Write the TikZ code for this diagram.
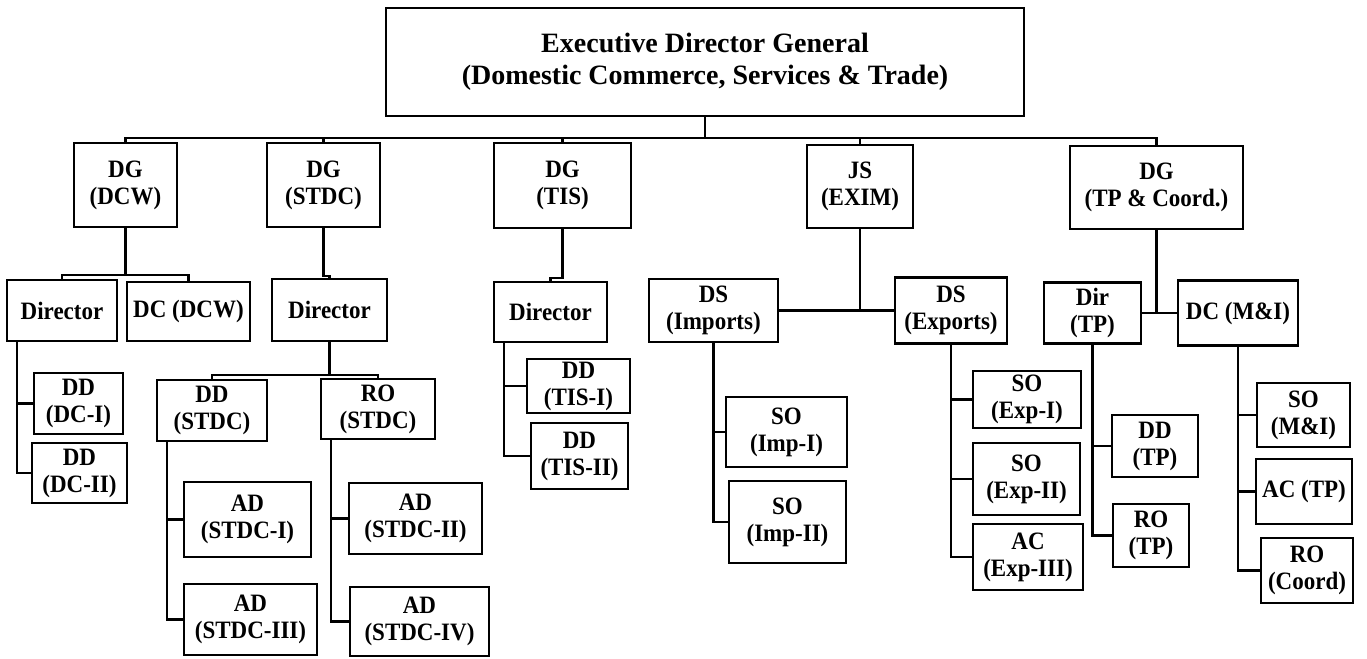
\documentclass[tikz,border=0pt]{standalone}
\usepackage{fontspec}
\setmainfont{Liberation Serif}
\newfontfamily\narrowserif{Liberation Serif}[FakeStretch=0.92]
\usetikzlibrary{positioning}

\tikzset{
  box/.style={draw, line width=1.2pt, inner sep=1pt, align=center,
    font=\narrowserif\bfseries\fontsize{12.5}{13.5}\selectfont},
  topbox/.style={box, font=\bfseries\fontsize{14}{16}\selectfont},
  link/.style={line width=1.2pt}
}

\begin{document}
\begin{tikzpicture}[x=0.5pt, y=-0.5pt]
\useasboundingbox (0,0) rectangle (1367,659);

%head
	\node[topbox, minimum width=319pt, minimum height=54pt] (edg) at (705,62) {Executive Director General\\(Domestic Commerce, Services \& Trade)};
	\coordinate (bus) at (0,138);

	%first level
	\node[box, minimum width=51.5pt, minimum height=42pt] (dgdcw) at (125.5,185) {DG\\(DCW)};
	\node[box, minimum width=56.5pt, minimum height=42pt] (dgstdc) at (323.5,185) {DG\\(STDC)};
	\node[box, minimum width=68.5pt, minimum height=42.5pt] (dgtis) at (562.5,185.5) {DG\\(TIS)};
	\node[box, minimum width=53pt, minimum height=41.5pt] (jsexim) at (860,186.5) {JS\\(EXIM)};
	\node[box, minimum width=86.5pt, minimum height=41.5pt] (dgtp) at (1156.5,187.5) {DG\\(TP \& Coord.)};

	\draw[link] (edg.south) -- (edg.south |- bus);
	\draw[link] (dgdcw.north) -- (dgdcw.north |- bus) -- (dgtp.north |- bus) -- (dgtp.north);
	\draw[link] (dgstdc.north) -- (dgstdc.north |- bus);
	\draw[link] (dgtis.north) -- (dgtis.north |- bus);
	\draw[link] (jsexim.north) -- (jsexim.north |- bus);

	%second level
	\node[box, minimum width=55pt, minimum height=30.5pt] (dirdcw) at (62,310.5) {Director};
	\node[box, minimum width=61.5pt, minimum height=29.5pt] (dcdcw) at (188.5,311.5) {DC (DCW)};
	\node[box, minimum width=57.5pt, minimum height=31pt] (dirstdc) at (329.5,310) {Director};
	\node[box, minimum width=56.5pt, minimum height=30pt] (dirtis) at (550.5,312) {Director};
	\node[box, minimum width=64.5pt, minimum height=31.5pt] (dsimp) at (713.5,310.5) {DS\\(Imports)};
	\node[box, minimum width=56pt, minimum height=33pt] (dsexp) at (951,310.5) {DS\\(Exports)};
	\node[box, minimum width=48.5pt, minimum height=30.5pt] (dirtp) at (1092.5,313) {Dir\\(TP)};
	\node[box, minimum width=60pt, minimum height=32.5pt] (dcmi) at (1238,313) {DC (M\&I)};

	\draw[link] (dgdcw.south) -- ++(0,47) coordinate (jdcw);
	\draw[link] (dirdcw.north) |- (jdcw) -| (dcdcw.north);
	\draw[link] (dgstdc.south) -- ++(0,48) -| (dirstdc.north);
	\draw[link] (dgtis.south) -- ++(0,49) -| (dirtis.north);
	\draw[link] (dsimp.east) -- (dsexp.west);
	\draw[link] (jsexim.south) -- (jsexim.south |- dsimp.east);
	\draw[link] (dirtp.east) -- (dcmi.west);
	\draw[link] (dgtp.south) -- (dgtp.south |- dirtp.east);

	%third level
	\node[box, minimum width=44.5pt, minimum height=30.5pt] (dddc1) at (78.5,403.5) {DD\\(DC-I)};
	\node[box, minimum width=47.5pt, minimum height=30pt] (dddc2) at (79.5,473) {DD\\(DC-II)};
	\node[box, minimum width=55pt, minimum height=30.5pt] (ddstdc) at (212,410.5) {DD\\(STDC)};
	\node[box, minimum width=57pt, minimum height=30pt] (rostdc) at (378,409) {RO\\(STDC)};
	\node[box, minimum width=51.5pt, minimum height=27pt] (ddtis1) at (578.5,386) {DD\\(TIS-I)};
	\node[box, minimum width=48.5pt, minimum height=33pt] (ddtis2) at (579.5,456) {DD\\(TIS-II)};
	\node[box, minimum width=60.5pt, minimum height=35pt] (soimp1) at (786.5,432) {SO\\(Imp-I)};
	\node[box, minimum width=58.5pt, minimum height=41pt] (soimp2) at (787.5,522) {SO\\(Imp-II)};
	\node[box, minimum width=54pt, minimum height=28.5pt] (soexp1) at (1027,399.5) {SO\\(Exp-I)};
	\node[box, minimum width=53.5pt, minimum height=36pt] (soexp2) at (1026.5,479) {SO\\(Exp-II)};
	\node[box, minimum width=55pt, minimum height=33pt] (acexp3) at (1028,557) {AC\\(Exp-III)};
	\node[box, minimum width=43pt, minimum height=31pt] (ddtp) at (1155,446) {DD\\(TP)};
	\node[box, minimum width=38pt, minimum height=31.5pt] (rotp) at (1151,535.5) {RO\\(TP)};
	\node[box, minimum width=46.5pt, minimum height=32pt] (somi) at (1303.5,415) {SO\\(M\&I)};
	\node[box, minimum width=48pt, minimum height=32.5pt] (actp) at (1304,491.5) {AC (TP)};
	\node[box, minimum width=46pt, minimum height=32.5pt] (rocoord) at (1307,570.5) {RO\\(Coord)};

	\draw[link] ([xshift=5.5pt]dirdcw.south west) |- (dddc1.west);
	\draw[link] ([xshift=5.5pt]dirdcw.south west) |- (dddc2.west);
	\draw[link] (dirstdc.south) -- ++(0,33) coordinate (jstdc);
	\draw[link] (ddstdc.north) |- (jstdc) -| (rostdc.north);
	\draw[link] ([xshift=5.5pt]dirtis.south west) |- (ddtis1.west);
	\draw[link] ([xshift=5.5pt]dirtis.south west) |- (ddtis2.west);
	\draw[link] (dsimp.south) |- (soimp1.west);
	\draw[link] (dsimp.south) |- (soimp2.west);
	\draw[link] (dsexp.south) |- (soexp1.west);
	\draw[link] (dsexp.south) |- (soexp2.west);
	\draw[link] (dsexp.south) |- (acexp3.west);
	\draw[link] (dirtp.south) |- (ddtp.west);
	\draw[link] (dirtp.south) |- (rotp.west);
	\draw[link] (dcmi.south) |- (somi.west);
	\draw[link] (dcmi.south) |- (actp.west);
	\draw[link] (dcmi.south) |- (rocoord.west);

	%fourth level
	\node[box, minimum width=63.5pt, minimum height=37.5pt] (adstdc1) at (247.5,519.5) {AD\\(STDC-I)};
	\node[box, minimum width=66.5pt, minimum height=35.5pt] (adstdc3) at (250.5,619.5) {AD\\(STDC-III)};
	\node[box, minimum width=66.5pt, minimum height=35.5pt] (adstdc2) at (415.5,518.5) {AD\\(STDC-II)};
	\node[box, minimum width=69.5pt, minimum height=34.5pt] (adstdc4) at (419.5,621.5) {AD\\(STDC-IV)};

	\draw[link] ([xshift=5.5pt]ddstdc.south west) |- (adstdc1.west);
	\draw[link] ([xshift=5.5pt]ddstdc.south west) |- (adstdc3.west);
	\draw[link] ([xshift=5.5pt]rostdc.south west) |- (adstdc2.west);
	\draw[link] ([xshift=5.5pt]rostdc.south west) |- (adstdc4.west);
\end{tikzpicture}
\end{document}
